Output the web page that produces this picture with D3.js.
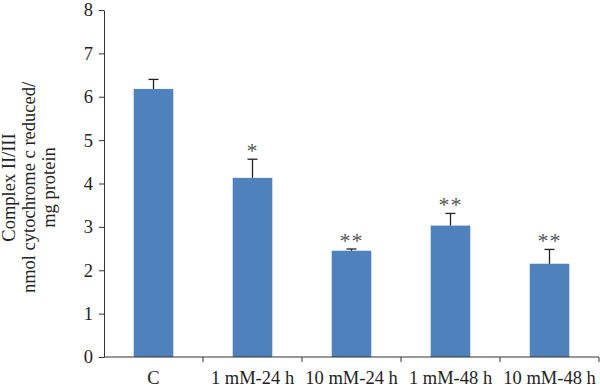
<!DOCTYPE html>
<html>
<head>
<meta charset="utf-8">
<script src="https://cdn.jsdelivr.net/npm/d3@7"></script>
<style>
  body { margin: 0; background: #fff; }
  svg { display: block; }
</style>
</head>
<body>
<div id="chart"></div>
<script>
const categories = ["C", "1 mM-24 h", "10 mM-24 h", "1 mM-48 h", "10 mM-48 h"];
const values = [6.18, 4.13, 2.45, 3.03, 2.15];
const errors = [0.22, 0.43, 0.04, 0.28, 0.33];
const marks = ["", "*", "**", "**", "**"];
const yTicks = [0, 1, 2, 3, 4, 5, 6, 7, 8];
const yTitle = ["Complex II/III", "nmol cytochrome c reduced/", "mg protein"];

const width = 600, height = 391;
const margin = {top: 10, right: 1, bottom: 34, left: 104};
const font = "'Liberation Serif', 'DejaVu Serif', serif";
const fs = "18.5px";

const svg = d3.select("#chart").append("svg")
    .attr("width", width)
    .attr("height", height);

const g = svg.append("g")
    .attr("transform", `translate(${margin.left}, ${margin.top})`);

const w = width - margin.left - margin.right;
const h = height - margin.top - margin.bottom;

const x = d3.scaleBand().domain(categories).range([0, w]).paddingInner(0.6).paddingOuter(0.3);
const xb = d3.scaleBand().domain(categories).range([0, w]);
const y = d3.scaleLinear().domain([0, 8]).range([h, 0]);

// bars
g.selectAll(".bar").data(values).join("rect")
    .attr("x", (d, i) => x(categories[i]))
    .attr("y", d => y(d))
    .attr("width", x.bandwidth())
    .attr("height", d => h - y(d))
    .attr("fill", "#4f81bd");

// error bars (upper only)
const cx = i => x(categories[i]) + x.bandwidth() / 2;
values.forEach((v, i) => {
    g.append("line").attr("x1", cx(i)).attr("x2", cx(i))
        .attr("y1", y(v)).attr("y2", y(v + errors[i]))
        .attr("stroke", "#222").attr("stroke-width", 1.3);
    g.append("line").attr("x1", cx(i) - 5).attr("x2", cx(i) + 5)
        .attr("y1", y(v + errors[i])).attr("y2", y(v + errors[i]))
        .attr("stroke", "#222").attr("stroke-width", 1.3);
    if (marks[i]) {
        g.append("text").attr("x", cx(i)).attr("y", y(v + errors[i]) - 1)
            .attr("text-anchor", "middle")
            .attr("font-family", font).attr("font-size", "22px")
            .attr("fill", "#555").attr("letter-spacing", "1px")
            .text(marks[i]);
    }
});

// y axis
const yAxis = g.append("g")
    .call(d3.axisLeft(y).tickValues(yTicks).tickSize(5).tickPadding(6).tickSizeOuter(0));
yAxis.selectAll("text").attr("font-family", font).attr("font-size", fs).attr("fill", "#222");
yAxis.selectAll("line, path").attr("stroke", "#333");

// x axis: ticks between categories
const xAxis = g.append("g").attr("transform", `translate(0, ${h})`);
xAxis.append("line").attr("x1", 0).attr("x2", w).attr("stroke", "#333");
categories.forEach((c, i) => {
    const bx = xb(c) + xb.bandwidth();
    xAxis.append("line").attr("x1", bx).attr("x2", bx).attr("y1", 0).attr("y2", 5).attr("stroke", "#333");
    xAxis.append("text").attr("x", xb(c) + xb.bandwidth() / 2).attr("y", 27)
        .attr("text-anchor", "middle")
        .attr("font-family", font).attr("font-size", fs).attr("fill", "#222")
        .text(c);
});

// y title
const title = svg.append("text")
    .attr("transform", `translate(0, ${margin.top + h / 2 + 4}) rotate(-90)`)
    .attr("text-anchor", "middle")
    .attr("font-family", font).attr("font-size", fs).attr("fill", "#222");
yTitle.forEach((t, i) => {
    title.append("tspan").attr("x", 0).attr("y", 15 + i * 20).text(t);
});
</script>
</body>
</html>
